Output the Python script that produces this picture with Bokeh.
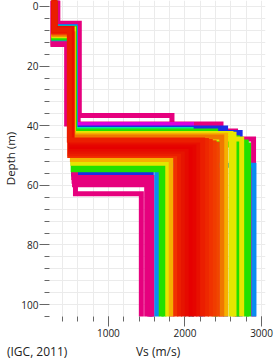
from bokeh.plotting import figure
from bokeh.models import Range1d, SingleIntervalTicker, ColumnDataSource
from bokeh.embed import file_html
from bokeh.resources import INLINE

# colour classes of the inverted Vs profiles (misfit colouring, outer -> best)
palette = {
    "pink": "#E6007E", "purple": "#DC00DC", "blue": "#1A2EE6", "azure": "#0A8CF0",
    "spring": "#00E6A0", "green": "#22E000", "yellow": "#E6E600", "amber": "#F5B000",
    "orange": "#F07800",
    "r1": "#F04600", "r2": "#F03C00", "r3": "#F03200", "r4": "#ED2800", "r5": "#EB1E00",
    "r6": "#E61400", "r7": "#E60A00", "r8": "#E60000", "r9": "#E60500", "r10": "#E81000",
}

# profiles in drawing order: class, Vs layer1, depth1, Vs layer2, depth2, Vs half-space
prof_class = ["blue", "pink", "pink", "pink", "pink", "pink", "pink", "pink", "pink",
              "purple", "blue", "blue", "blue", "azure", "azure", "spring",
              "green", "green", "green", "green", "green", "green",
              "yellow", "yellow", "yellow", "yellow", "amber", "amber", "orange",
              "r1", "r2", "r3", "r4", "r3", "r5", "r6", "r7", "r8", "r9", "r10", "r5"]
vs_1 = [283, 276, 279, 281, 283, 340, 335, 330, 322,
        300, 298, 296, 300, 302, 286, 300,
        298, 284, 286, 300, 297, 299,
        288, 296, 298, 300, 290, 289, 287,
        300, 296, 292, 288, 284, 286, 290, 294, 298, 302, 305, 296]
depth_1 = [11.0, 12.8, 12.3, 12.0, 11.7, 5.6, 6.0, 6.3, 6.5,
           6.7, 6.9, 7.0, 7.1, 6.8, 10.8, 7.3,
           7.4, 10.6, 10.2, 7.3, 7.5, 7.6,
           9.8, 7.6, 7.7, 7.8, 9.5, 9.0, 9.2,
           8.4, 8.2, 8.1, 8.6, 8.5, 8.3, 8.0, 7.8, 7.6, 7.5, 7.4, 7.9]
vs_2 = [545, 570, 558, 552, 548, 620, 455, 605, 595,
        565, 562, 560, 558, 566, 555, 560,
        556, 540, 545, 553, 550, 548,
        535, 545, 542, 540, 530, 538, 535,
        518, 512, 508, 498, 495, 500, 505, 510, 515, 520, 525, 490]
depth_2 = [56.2, 62.8, 59.8, 58.6, 57.4, 36.6, 39.4, 41.8, 44.5,
           39.6, 40.8, 41.5, 42.3, 53.3, 47.0, 41.3,
           41.8, 54.8, 54.0, 44.0, 45.5, 46.5,
           52.6, 42.6, 42.9, 44.5, 51.3, 43.2, 43.8,
           46.2, 45.7, 45.3, 45.0, 50.0, 49.4, 48.6, 47.8, 47.0, 46.2, 45.5, 44.8]
vs_3 = [1560, 1430, 1500, 1540, 1570, 1830, 2470, 2660, 2895,
        2085, 2530, 2212, 2720, 2900, 1632, 2080,
        2400, 1690, 1725, 2685, 2800, 2830,
        1775, 2600, 2640, 2740, 1820, 2530, 2480,
        2420, 2380, 2330, 2280, 1880, 1930, 1980, 2030, 2080, 2130, 2180, 2230]

depth_top = -2.0          # top of the depth axis (profiles drawn from the surface up)
depth_bottom = 104.0
vs_min, vs_max = 231.0, 3051.0
half_space_bottom = 110.0  # half-space continues below the plotted range

source_note = "(IGC, 2011)"
x_title = "Vs (m/s)"
y_title = "Depth (m)"

xs, ys, cols = [], [], []
for c, v1, h1, v2, h2, v3 in zip(prof_class, vs_1, depth_1, vs_2, depth_2, vs_3):
    xs.append([v1, v1, v2, v2, v3, v3])
    ys.append([depth_top, h1, h1, h2, h2, half_space_bottom])
    cols.append(palette[c])

src = ColumnDataSource(dict(xs=xs, ys=ys, color=cols))

p = figure(width=275, height=362, x_range=Range1d(vs_min, vs_max),
           y_range=Range1d(depth_bottom, depth_top),
           output_backend="svg", toolbar_location=None,
           min_border_left=45, min_border_right=10, min_border_top=0, min_border_bottom=44)
p.outline_line_color = None
p.background_fill_color = "white"

p.multi_line(xs="xs", ys="ys", line_color="color", line_width=5, line_join="miter", source=src)

p.xaxis.ticker = SingleIntervalTicker(interval=1000, num_minor_ticks=5)
p.yaxis.ticker = SingleIntervalTicker(interval=20, num_minor_ticks=5)
p.xgrid.ticker = SingleIntervalTicker(interval=200)
p.ygrid.ticker = SingleIntervalTicker(interval=4)
for g in (p.xgrid, p.ygrid):
    g.grid_line_color = "#ebebeb"
    g.grid_line_width = 1

for ax in (p.xaxis, p.yaxis):
    ax.axis_line_color = None
    ax.major_tick_line_color = "#666666"
    ax.minor_tick_line_color = "#666666"
    ax.major_tick_out = 10
    ax.major_tick_in = 0
    ax.minor_tick_out = 5
    ax.minor_tick_in = 0
    ax.major_label_text_font = "Open Sans"
    ax.major_label_text_font_size = "10px"
    ax.major_label_text_color = "#222222"
    ax.axis_label_text_font = "Open Sans"
    ax.axis_label_text_font_size = "12px"
    ax.axis_label_text_font_style = "normal"
    ax.axis_label_text_color = "#222222"

p.yaxis.major_tick_in = -4
p.yaxis.major_tick_out = 10
# the source note shares the x-title line (annotations outside the frame are clipped),
# separated by non-breaking spaces so the axis title stays centred under the frame
nbsp = "\u00a0"
p.xaxis.axis_label = source_note + nbsp * 22 + x_title + nbsp * 41
p.yaxis.axis_label = y_title
p.yaxis.axis_label_text_font_size = "11.5px"
p.xaxis.major_label_standoff = 2
p.yaxis.major_label_standoff = 1
p.xaxis.axis_label_standoff = 3
p.yaxis.axis_label_standoff = 0

open("out.html", "w").write(file_html(p, INLINE))
